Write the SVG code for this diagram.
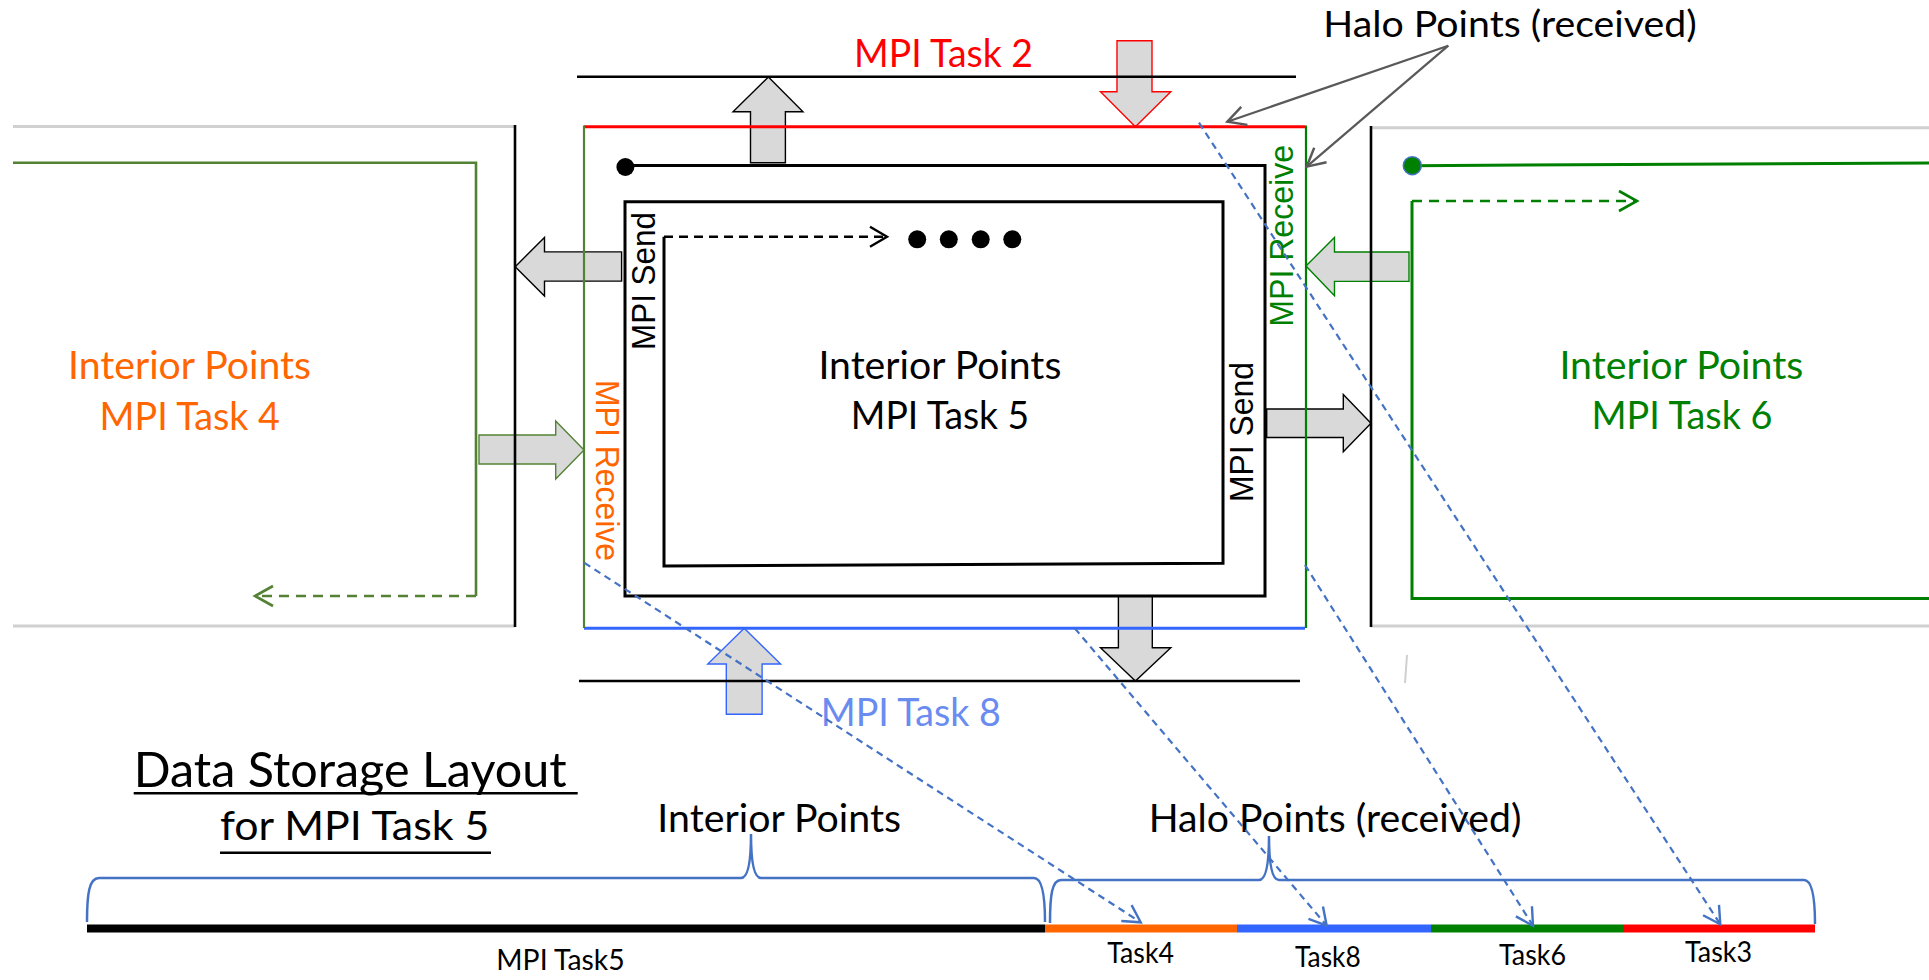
<svg xmlns="http://www.w3.org/2000/svg" width="1929" height="980" viewBox="0 0 1929 980">
  <style>
    .lbl { font-family: Lato, "Liberation Sans", sans-serif; }
    .rot { font-family: "Liberation Sans", Arial, sans-serif; font-size: 33px; }
    .blk { fill: #D9D9D9; stroke-width: 1.4; stroke-linejoin: miter; }
    .spiral { fill: none; stroke: #000; stroke-width: 3; }
    .grey { stroke: #D0D0D0; stroke-width: 3; fill: none; }
    .edge { stroke: #000; stroke-width: 2.6; fill: none; }
    .halo-link { stroke: #4472C4; stroke-width: 2.2; stroke-dasharray: 7 5; fill: none; marker-end: url(#open-blue); }
    .callout { stroke: #595959; stroke-width: 2.2; fill: none; marker-end: url(#open-grey); }
    .brace { stroke: #4472C4; stroke-width: 2.5; fill: none; }
  </style>
  <defs>
    <marker id="open-blue" markerUnits="userSpaceOnUse" markerWidth="40" markerHeight="40" viewBox="-20 -20 40 40" refX="0" refY="0" orient="auto" overflow="visible">
      <path d="M-17,-9.5 L0,0 L-17,9.5" fill="none" stroke="#4472C4" stroke-width="2.4" stroke-dasharray="none"/>
    </marker>
    <marker id="open-grey" markerUnits="userSpaceOnUse" markerWidth="40" markerHeight="40" viewBox="-20 -20 40 40" refX="0" refY="0" orient="auto" overflow="visible">
      <path d="M-18,-9.5 L0,0 L-18,9.5" fill="none" stroke="#595959" stroke-width="2.4"/>
    </marker>
    <marker id="open-black" markerUnits="userSpaceOnUse" markerWidth="40" markerHeight="40" viewBox="-20 -20 40 40" refX="0" refY="0" orient="auto" overflow="visible">
      <path d="M-17,-10 L0,0 L-17,10" fill="none" stroke="#000" stroke-width="2.4"/>
    </marker>
    <marker id="open-olive" markerUnits="userSpaceOnUse" markerWidth="40" markerHeight="40" viewBox="-20 -20 40 40" refX="0" refY="0" orient="auto" overflow="visible">
      <path d="M-18,-10 L0,0 L-18,10" fill="none" stroke="#548235" stroke-width="2.6"/>
    </marker>
    <marker id="open-green" markerUnits="userSpaceOnUse" markerWidth="40" markerHeight="40" viewBox="-20 -20 40 40" refX="0" refY="0" orient="auto" overflow="visible">
      <path d="M-18,-10 L0,0 L-18,10" fill="none" stroke="#008000" stroke-width="2.6"/>
    </marker>
  </defs>

  <rect width="1929" height="980" fill="#FFFFFF"/>

  <!-- block arrows: sends and receives between neighbouring tasks -->
  <g id="exchange-arrows">
    <path class="blk" stroke="#000" d="M768.4 77 L803 111.7 L785.4 111.7 L785.4 162.7 L750.5 162.7 L750.5 111.7 L733 111.7 Z"/>
    <path class="blk" stroke="#FF0000" d="M1117 40.7 L1152 40.7 L1152 91.7 L1170.8 91.7 L1135.4 126.7 L1100.5 91.7 L1117 91.7 Z"/>
    <path class="blk" stroke="#000" d="M515.2 266.7 L544.5 237.4 L544.5 251.9 L621.6 251.9 L621.6 281.1 L544.5 281.1 L544.5 296 Z"/>
    <path class="blk" stroke="#548235" d="M479 435 L555.7 435 L555.7 421 L584 450 L555.7 479 L555.7 464 L479 464 Z"/>
    <path class="blk" stroke="#008000" d="M1306 266 L1334.5 237.5 L1334.5 252 L1409 252 L1409 281.4 L1334.5 281.4 L1334.5 295.7 Z"/>
    <path class="blk" stroke="#000" d="M1266.7 409 L1343.3 409 L1343.3 394.6 L1371 423.2 L1343.3 451.8 L1343.3 437.5 L1266.7 437.5 Z"/>
    <path class="blk" stroke="#000" d="M1118.4 596 L1152.3 596 L1152.3 647.7 L1170.8 647.7 L1135.4 681 L1100.5 647.7 L1118.4 647.7 Z"/>
    <path class="blk" stroke="#3366FF" d="M744.2 628.3 L780.6 664 L762.1 664 L762.1 714.3 L726.3 714.3 L726.3 664 L707.8 664 Z"/>
  </g>

  <!-- neighbour task 4 (left) -->
  <g id="task4">
    <line class="grey" x1="13" y1="126.5" x2="515" y2="126.5"/>
    <line class="grey" x1="13" y1="626" x2="515" y2="626"/>
    <line class="edge" x1="515" y1="125" x2="515" y2="627"/>
    <polyline points="13,162.7 476,162.7 476,596" fill="none" stroke="#548235" stroke-width="2.6"/>
    <line x1="476" y1="596" x2="255" y2="596" stroke="#548235" stroke-width="2.6" stroke-dasharray="10 7" marker-end="url(#open-olive)"/>
    <text class="lbl" x="68" y="378.6" font-size="39" fill="#FF6600" textLength="243" lengthAdjust="spacingAndGlyphs">Interior Points</text>
    <text class="lbl" x="99.6" y="429.6" font-size="39" fill="#FF6600" textLength="180.4" lengthAdjust="spacingAndGlyphs">MPI Task 4</text>
  </g>

  <!-- neighbour task 6 (right) -->
  <g id="task6">
    <line class="grey" x1="1371" y1="127.7" x2="1929" y2="127.7"/>
    <line class="grey" x1="1371" y1="626" x2="1929" y2="626"/>
    <line class="edge" x1="1371" y1="126" x2="1371" y2="627"/>
    <line x1="1407" y1="655" x2="1405" y2="683" stroke="#D0D0D0" stroke-width="2"/>
    <line x1="1412" y1="165.7" x2="1929" y2="163" stroke="#008000" stroke-width="3"/>
    <circle cx="1412.3" cy="165.7" r="9" fill="#008000" stroke="#4472C4" stroke-width="1.5"/>
    <polyline points="1412,201 1412,598.6 1929,598.6" fill="none" stroke="#008000" stroke-width="3"/>
    <line x1="1412" y1="201" x2="1637" y2="201" stroke="#008000" stroke-width="2.6" stroke-dasharray="10 7" marker-end="url(#open-green)"/>
    <text class="lbl" x="1559.4" y="378.6" font-size="39" fill="#008000" textLength="244" lengthAdjust="spacingAndGlyphs">Interior Points</text>
    <text class="lbl" x="1591.5" y="429" font-size="39" fill="#008000" textLength="181" lengthAdjust="spacingAndGlyphs">MPI Task 6</text>
  </g>

  <!-- neighbour task 2 (above) -->
  <g id="task2">
    <line class="edge" x1="577" y1="76.7" x2="1296" y2="76.7"/>
    <text class="lbl" x="854" y="66.7" font-size="39" fill="#FF0000" textLength="179" lengthAdjust="spacingAndGlyphs">MPI Task 2</text>
  </g>

  <!-- neighbour task 8 (below) -->
  <g id="task8">
    <line class="edge" x1="579" y1="681" x2="1300" y2="681"/>
    <text class="lbl" x="820.8" y="725.7" font-size="39" fill="#6A8CF0" textLength="180" lengthAdjust="spacingAndGlyphs">MPI Task 8</text>
  </g>

  <!-- task 5: halo ring and interior spiral -->
  <g id="task5">
    <line x1="584" y1="126.7" x2="1305" y2="126.7" stroke="#FF0000" stroke-width="3"/>
    <line x1="584" y1="628.3" x2="1305" y2="628.3" stroke="#3366FF" stroke-width="3"/>
    <line x1="584" y1="125.5" x2="584" y2="628" stroke="#548235" stroke-width="2.2"/>
    <line x1="1306" y1="125.5" x2="1306" y2="628" stroke="#008000" stroke-width="2.2"/>
    <path class="spiral" d="M625 165.5 L1265 165.5 L1265 596 L625 596 L625 201.7 L1223 201.7 L1223 563.3 L664 566 L664 236.7"/>
    <circle cx="625.4" cy="167" r="9" fill="#000"/>
    <line x1="664" y1="236.7" x2="887" y2="236.7" stroke="#000" stroke-width="2.4" stroke-dasharray="9 6" marker-end="url(#open-black)"/>
    <circle cx="917.2" cy="239.3" r="9" fill="#000"/>
    <circle cx="948.8" cy="239.3" r="9" fill="#000"/>
    <circle cx="980.7" cy="239.3" r="9" fill="#000"/>
    <circle cx="1012.3" cy="239.3" r="9" fill="#000"/>
    <text class="lbl" x="818.4" y="379" font-size="39" fill="#000" textLength="243" lengthAdjust="spacingAndGlyphs">Interior Points</text>
    <text class="lbl" x="850.8" y="429.3" font-size="39" fill="#000" textLength="178.4" lengthAdjust="spacingAndGlyphs">MPI Task 5</text>
    <text class="rot" transform="translate(654.5,350) rotate(-90)" fill="#000" textLength="138" lengthAdjust="spacingAndGlyphs">MPI Send</text>
    <text class="rot" transform="translate(1253,502) rotate(-90)" fill="#000" textLength="140" lengthAdjust="spacingAndGlyphs">MPI Send</text>
    <text class="rot" transform="translate(596,380) rotate(90)" fill="#FF6600" textLength="181" lengthAdjust="spacingAndGlyphs">MPI Receive</text>
    <text class="rot" transform="translate(1293,326.7) rotate(-90)" fill="#008000" textLength="181.7" lengthAdjust="spacingAndGlyphs">MPI Receive</text>
  </g>

  <!-- halo label with callouts -->
  <g id="halo-label">
    <text class="lbl" x="1323.3" y="37.3" font-size="37" fill="#000" textLength="373.4" lengthAdjust="spacingAndGlyphs">Halo Points (received)</text>
  </g>

  <!-- storage layout bar -->
  <g id="storage-layout">
    <text class="lbl" x="133.7" y="786.7" font-size="48" fill="#000" textLength="433" lengthAdjust="spacingAndGlyphs">Data Storage Layout</text>
    <line x1="133.7" y1="793.3" x2="577.7" y2="793.3" stroke="#000" stroke-width="2.5"/>
    <text class="lbl" x="220" y="840" font-size="41" fill="#000" textLength="269.3" lengthAdjust="spacingAndGlyphs">for MPI Task 5</text>
    <line x1="220" y1="852.7" x2="491" y2="852.7" stroke="#000" stroke-width="2.5"/>
    <text class="lbl" x="657.3" y="832.3" font-size="39" fill="#000" textLength="243.7" lengthAdjust="spacingAndGlyphs">Interior Points</text>
    <text class="lbl" x="1148.7" y="831.7" font-size="39" fill="#000" textLength="372.7" lengthAdjust="spacingAndGlyphs">Halo Points (received)</text>
    <path class="brace" d="M87 922 C87 894 89 878 99 878 L741 878 C748 878 751 862 751 834 C751 862 754 878 761 878 L1034 878 C1042 878 1045 894 1045 922"/>
    <path class="brace" d="M1050 923 C1050 895 1052 880 1061 880 L1259 880 C1266 880 1269 864 1269 836 C1269 864 1272 880 1279 880 L1804 880 C1812 880 1815 896 1815 924"/>
    <rect x="87" y="924.5" width="958" height="8" fill="#000"/>
    <rect x="1045" y="924.5" width="192" height="8" fill="#FF6600"/>
    <rect x="1237" y="924.5" width="194" height="8" fill="#3366FF"/>
    <rect x="1431" y="924.5" width="193" height="8" fill="#008000"/>
    <rect x="1624" y="924.5" width="191" height="8" fill="#FF0000"/>
    <text class="lbl" x="496.3" y="970" font-size="28" fill="#000" textLength="128.4" lengthAdjust="spacingAndGlyphs">MPI Task5</text>
    <text class="lbl" x="1107.3" y="963.3" font-size="28" fill="#000" textLength="66.7" lengthAdjust="spacingAndGlyphs">Task4</text>
    <text class="lbl" x="1295" y="966.7" font-size="28" fill="#000" textLength="65.7" lengthAdjust="spacingAndGlyphs">Task8</text>
    <text class="lbl" x="1499" y="965" font-size="28" fill="#000" textLength="67" lengthAdjust="spacingAndGlyphs">Task6</text>
    <text class="lbl" x="1685" y="962" font-size="28" fill="#000" textLength="67" lengthAdjust="spacingAndGlyphs">Task3</text>
  </g>

  <!-- connectors: halo strips mapped to their storage slots, and label callouts -->
  <g id="connectors">
    <line class="halo-link" x1="584.4" y1="562.8" x2="1140.7" y2="922.3"/>
    <line class="halo-link" x1="1074.8" y1="628.3" x2="1326.7" y2="925.7"/>
    <line class="halo-link" x1="1305" y1="565" x2="1533" y2="925.7"/>
    <line class="halo-link" x1="1199" y1="122.7" x2="1720.3" y2="924.3"/>
    <line class="callout" x1="1448.3" y1="45.7" x2="1227.3" y2="121.7"/>
    <line class="callout" x1="1448.3" y1="45.7" x2="1306.7" y2="166.7"/>
  </g>
</svg>
